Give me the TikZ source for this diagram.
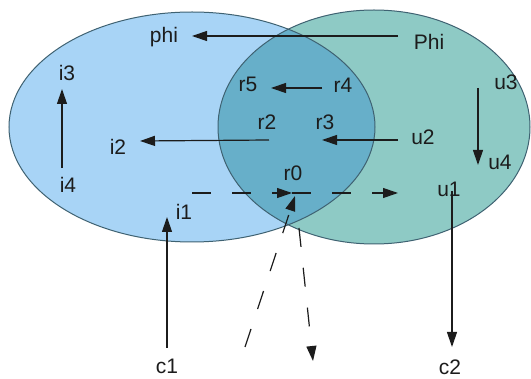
\documentclass[tikz,border=0pt]{standalone}
\usepackage{fontspec}
\setmainfont{Liberation Sans}
\usetikzlibrary{arrows.meta}
\definecolor{lblue}{HTML}{A8D4F6}
\definecolor{lteal}{HTML}{8ECAC5}
\definecolor{midc}{HTML}{67AFC9}
\definecolor{edgec}{HTML}{3F6272}
\definecolor{txt}{HTML}{1C1C1C}
\begin{document}
\begin{tikzpicture}[x=1pt,y=-1pt,
  lbl/.style={inner sep=0pt, font=\fontsize{21}{25}\selectfont, text=txt},
  arr/.style={line width=1.2pt, draw=txt, -{Triangle[length=15pt,width=10pt]}},
  darr/.style={arr, dash pattern=on 19pt off 21pt},
  setedge/.style={draw=edgec, line width=1pt}]
\useasboundingbox (0,0) rectangle (531,379);
\fill[white] (0,0) rectangle (531,379);
% sets
\fill[lblue] (192,127) ellipse [x radius=183pt, y radius=115pt];
\fill[lteal] (374,127) ellipse [x radius=156pt, y radius=117pt];
\begin{scope}
  \clip (192,127) ellipse [x radius=183pt, y radius=115pt];
  \fill[midc] (374,127) ellipse [x radius=156pt, y radius=117pt];
\end{scope}
\draw[setedge] (192,127) ellipse [x radius=183pt, y radius=115pt];
\draw[setedge] (374,127) ellipse [x radius=156pt, y radius=117pt];
% labels
\node[lbl] (phi) at (164,37) {phi};
\node[lbl] (Phi) at (429,42) {Phi};
\node[lbl] (i3) at (67,73) {i3};
\node[lbl] (r5) at (248,84) {r5};
\node[lbl] (r4) at (343,85) {r4};
\node[lbl] (u3) at (506,82) {u3};
\node[lbl] (r2) at (267,122) {r2};
\node[lbl] (r3) at (325,122) {r3};
\node[lbl] (u2) at (423,137) {u2};
\node[lbl] (i2) at (118,147) {i2};
\node[lbl] (u4) at (500,162) {u4};
\node[lbl] (i4) at (68,185) {i4};
\node[lbl] (r0) at (293,173) {r0};
\node[lbl] (u1) at (449,189) {u1};
\node[lbl] (i1) at (184,212) {i1};
\node[lbl] (c1) at (167,366) {c1};
\node[lbl] (c2) at (450,367) {c2};
\coordinate (src) at (245,347);
\coordinate (sink) at (313,361);
% solid connectors
\draw[arr] ([shift={(-31,-6)}]Phi.center) -- ([shift={(28,-1)}]phi.center);
\draw[arr] ([shift={(-21,3)}]r4.center) -- ([shift={(23,4)}]r5.center);
\draw[arr] ([shift={(-25,3)}]u2.center) -- ([shift={(-3,18)}]r3.center);
\draw[arr] ([shift={(2,18)}]r2.center) -- ([shift={(22,-6)}]i2.center);
\draw[arr] ([shift={(-6,-17)}]i4.center) -- ([shift={(-5,16)}]i3.center);
\draw[arr] ([shift={(-28,6)}]u3.center) -- ([shift={(-22,3)}]u4.center);
\draw[arr] ([shift={(3,2)}]u1.center) -- ([shift={(2,-20)}]c2.center);
\draw[arr] ([shift={(0,-18)}]c1.center) -- ([shift={(-17,5)}]i1.center);
% dashed connectors
\draw[darr] ([shift={(8,-19)}]i1.center) -- ([shift={(-1,20)}]r0.center);
\draw[darr] ([shift={(-1,20)}]r0.center) -- ([shift={(-51,4)}]u1.center);
\draw[darr] (src) -- ([shift={(2,23)}]r0.center);
\draw[darr] ([shift={(6,55)}]r0.center) -- (sink);
\end{tikzpicture}
\end{document}
